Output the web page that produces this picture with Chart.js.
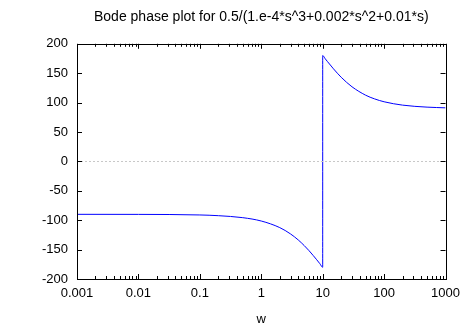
<!DOCTYPE html>
<html>
<head>
<meta charset="utf-8">
<script src="https://cdn.jsdelivr.net/npm/chart.js@4/dist/chart.umd.min.js"></script>
<style>
  html, body { margin: 0; padding: 0; background: #fff; }
  #wrap { width: 467px; height: 327px; }
</style>
</head>
<body>
<div id="wrap"><canvas id="chart" width="467" height="327"></canvas></div>
<script>
// frequency (rad/s) and phase (deg)
const freq = [0.001, 0.01, 0.1, 0.2, 0.5, 1, 2, 3, 4, 5, 6, 7, 8, 9, 10,
              10, 11, 12, 15, 20, 30, 50, 70, 100, 200, 500, 1000];
const phase = [-90.0, -90.1, -91.1, -92.3, -95.7, -101.4, -112.6, -123.4, -133.6, -143.1, -151.9, -160.0, -167.3, -174.0, -180,
               180, 174.5, 169.6, 157.4, 143.1, 126.9, 112.6, 106.3, 101.4, 95.7, 92.3, 91.1];
const xTicks = [0.001, 0.01, 0.1, 1, 10, 100, 1000];
const yTicks = [-200, -150, -100, -50, 0, 50, 100, 150, 200];

const FONT = "'Liberation Sans', Arial, sans-serif";

// gnuplot-like frame: box, inward ticks on all sides, dotted zero axis
const framePlugin = {
  id: "frame",
  afterDatasetsDraw(chart) {
    const { ctx, chartArea: a, scales } = chart;
    const x = scales.x, y = scales.y;
    ctx.save();
    // zero axis
    ctx.strokeStyle = "#c8c8c8";
    ctx.lineWidth = 1;
    ctx.setLineDash([2, 2]);
    const y0 = Math.round(y.getPixelForValue(0)) + 0.5;
    ctx.beginPath();
    ctx.moveTo(a.left, y0);
    ctx.lineTo(a.right, y0);
    ctx.stroke();
    ctx.setLineDash([]);

    ctx.strokeStyle = "#000";
    ctx.beginPath();
    // y ticks
    yTicks.forEach(v => {
      const p = Math.round(y.getPixelForValue(v)) + 0.5;
      ctx.moveTo(a.left, p); ctx.lineTo(a.left + 5, p);
      ctx.moveTo(a.right, p); ctx.lineTo(a.right - 5, p);
    });
    // x ticks (major decades + minor 2..9)
    xTicks.forEach((d, i) => {
      const p = Math.round(x.getPixelForValue(d)) + 0.5;
      ctx.moveTo(p, a.bottom); ctx.lineTo(p, a.bottom - 5);
      ctx.moveTo(p, a.top); ctx.lineTo(p, a.top + 5);
      if (i < xTicks.length - 1) {
        for (let m = 2; m <= 9; m++) {
          const q = Math.round(x.getPixelForValue(d * m)) + 0.5;
          ctx.moveTo(q, a.bottom); ctx.lineTo(q, a.bottom - 3);
          ctx.moveTo(q, a.top); ctx.lineTo(q, a.top + 3);
        }
      }
    });
    ctx.stroke();
    ctx.lineWidth = 1;
    ctx.strokeRect(Math.round(a.left) + 0.5, Math.round(a.top) + 0.5,
                   Math.round(a.right - a.left), Math.round(a.bottom - a.top));
    ctx.restore();
  }
};

new Chart(document.getElementById("chart"), {
  type: "line",
  data: {
    datasets: [{
      data: freq.map((w, i) => ({ x: w, y: phase[i] })),
      borderColor: "#0000ff",
      borderWidth: 1,
      pointRadius: 0,
      tension: 0.3,
      cubicInterpolationMode: "monotone",
      fill: false
    }]
  },
  options: {
    responsive: false,
    animation: false,
    layout: { padding: { left: 0, right: 21, top: 0, bottom: 0 } },
    plugins: {
      legend: { display: false },
      tooltip: { enabled: false },
      title: {
        display: true,
        fullSize: false,
        text: "Bode phase plot for 0.5/(1.e-4*s^3+0.002*s^2+0.01*s)",
        color: "#000",
        font: { family: FONT, size: 14, weight: "normal" },
        padding: { top: 9, bottom: 18 }
      }
    },
    scales: {
      x: {
        type: "logarithmic",
        min: 0.001,
        max: 1000,
        grid: { display: false, drawTicks: false },
        border: { display: false },
        afterBuildTicks(scale) { scale.ticks = xTicks.map(v => ({ value: v })); },
        afterFit(scale) { scale.height = 48; },
        ticks: {
          color: "#000",
          padding: 7,
          maxRotation: 0,
          autoSkip: false,
          font: { family: FONT, size: 13 },
          callback: v => String(v)
        },
        title: {
          display: true,
          text: "w",
          color: "#000",
          font: { family: FONT, size: 13 },
          padding: { top: 3, bottom: 0 }
        }
      },
      y: {
        min: -200,
        max: 200,
        grid: { display: false, drawTicks: false },
        border: { display: false },
        afterBuildTicks(scale) { scale.ticks = yTicks.map(v => ({ value: v })); },
        afterFit(scale) { scale.width = 77; },
        ticks: {
          color: "#000",
          padding: 9,
          font: { family: FONT, size: 13 }
        }
      }
    }
  },
  plugins: [framePlugin]
});
</script>
</body>
</html>
